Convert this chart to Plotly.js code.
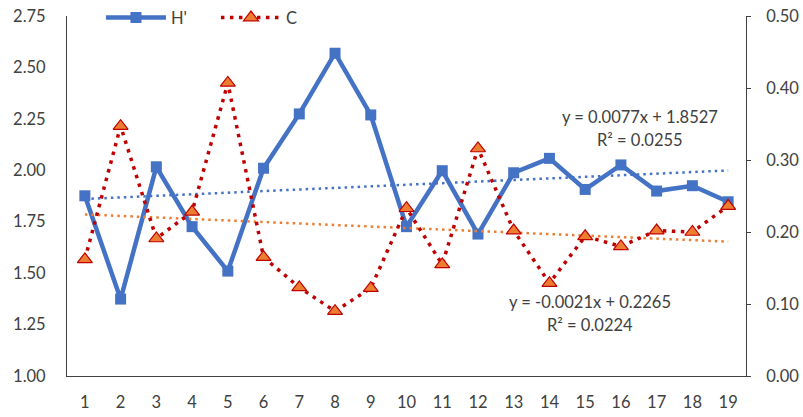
<!DOCTYPE html>
<html>
<head>
<meta charset="utf-8">
<script src="https://cdn.plot.ly/plotly-3.0.1.min.js"></script>
<style>html,body{margin:0;padding:0;background:#fff;}#chart{width:803px;height:417px;}</style>
</head>
<body>
<div id="chart"></div>
<script>
// ---- data ----
const categories = [1,2,3,4,5,6,7,8,9,10,11,12,13,14,15,16,17,18,19];
const hPrime = [1.876,1.374,2.017,1.726,1.510,2.010,2.274,2.569,2.269,1.726,1.998,1.690,1.988,2.058,1.907,2.026,1.899,1.925,1.847];
const cValues = [0.162,0.347,0.191,0.228,0.407,0.165,0.123,0.090,0.122,0.233,0.155,0.316,0.202,0.129,0.194,0.180,0.202,0.200,0.236];
// trendline equations as printed on the chart
const hTrend = {slope: 0.0077, intercept: 1.8527, r2: 0.0255};
const cTrend = {slope: -0.0021, intercept: 0.2265, r2: 0.0224};
const leftTicks = [1.00,1.25,1.50,1.75,2.00,2.25,2.50,2.75];
const rightTicks = [0.00,0.10,0.20,0.30,0.40,0.50];

const FONT = 'Lato, "Open Sans", "Liberation Sans", sans-serif';
const TXT = '#404040';
const BLUE = '#4472C4', RED = '#C00000', ORANGE = '#ED7D31';
const FS = 16.5;

const xs = categories;
const hFit = xs.map(x => hTrend.slope * x + hTrend.intercept);
const cFit = xs.map(x => cTrend.slope * x + cTrend.intercept);

const traces = [
  {x: xs, y: hFit, type: 'scatter', mode: 'lines', showlegend: false, hoverinfo: 'skip',
   line: {color: BLUE, width: 2.5, dash: '2.5px,4px'}},
  {x: xs, y: cFit, yaxis: 'y2', type: 'scatter', mode: 'lines', showlegend: false, hoverinfo: 'skip',
   line: {color: ORANGE, width: 2.5, dash: '2.5px,4px'}},
  {x: xs, y: hPrime, name: "H'", type: 'scatter', mode: 'lines+markers',
   line: {color: BLUE, width: 4.5}, marker: {symbol: 'square', size: 11, color: BLUE}},
  {x: xs, y: cValues, name: 'C', yaxis: 'y2', type: 'scatter', mode: 'lines+markers',
   line: {color: RED, width: 3.5, dash: '3.5px,5.5px'},
   marker: {symbol: 'triangle-up', size: 13, color: ORANGE, line: {color: RED, width: 1.2}}}
];

const eqText = (t) => 'y = ' + t.slope.toFixed(4) + 'x + ' + t.intercept.toFixed(4);
const ann = (px, py, text) => ({xref: 'paper', yref: 'paper', x: (px-67)/679, y: (376-py)/360, text: text,
  showarrow: false, xanchor: 'center', yanchor: 'middle', font: {family: FONT, size: FS, color: TXT}});

const layout = {
  width: 803, height: 417,
  margin: {l: 67, r: 57, t: 16, b: 41, autoexpand: false},
  paper_bgcolor: '#fff', plot_bgcolor: '#fff',
  font: {family: FONT, size: FS, color: TXT},
  showlegend: true,
  legend: {orientation: 'h', x: 0.05, xanchor: 'left', y: 0.995, yanchor: 'middle',
           itemwidth: 60, entrywidth: 40, entrywidthmode: 'pixels',
           font: {family: FONT, size: FS, color: TXT}, bgcolor: 'rgba(0,0,0,0)', traceorder: 'normal'},
  xaxis: {type: 'linear', range: [0.5, 19.5], tickvals: categories, ticktext: categories.map(String),
          showgrid: false, zeroline: false, showline: true, linecolor: '#404040', linewidth: 1,
          ticks: '', ticklabelstandoff: 11, tickfont: {family: FONT, size: FS, color: TXT}},
  yaxis: {range: [1.0, 2.75], tickvals: leftTicks, ticktext: leftTicks.map(v => v.toFixed(2)),
          showgrid: false, zeroline: false, showline: true, linecolor: '#404040', linewidth: 1,
          ticks: '', ticklabelstandoff: 17, tickfont: {family: FONT, size: FS, color: TXT}},
  yaxis2: {range: [0, 0.5], overlaying: 'y', side: 'right', tickvals: rightTicks,
           ticktext: rightTicks.map(v => v.toFixed(2)),
           showgrid: false, zeroline: false, showline: true, linecolor: '#404040', linewidth: 1,
           ticks: 'outside', ticklen: 4, tickcolor: '#404040', ticklabelstandoff: 12,
           tickfont: {family: FONT, size: FS, color: TXT}},
  annotations: [
    ann(640, 117, eqText(hTrend)),
    ann(640, 140, 'R² = ' + hTrend.r2.toFixed(4)),
    ann(590, 302, eqText(cTrend)),
    ann(590, 325, 'R² = ' + cTrend.r2.toFixed(4))
  ]
};

Plotly.newPlot('chart', traces, layout, {displayModeBar: false, staticPlot: true});
</script>
</body>
</html>
